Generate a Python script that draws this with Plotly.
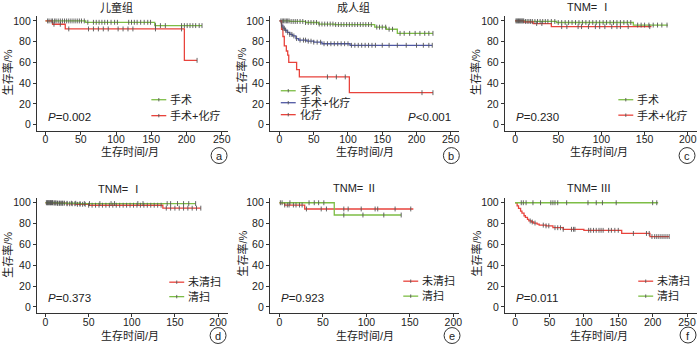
import numpy as np
import plotly.graph_objects as go

# ---------------- data ----------------
# Panel a: 儿童组
a_green_t = [0, 57, 155, 222]
a_green_s = [100, 98.7, 95.5, 95.5]
a_green_c = [3, 5, 8, 10, 13, 15, 18, 21, 24, 27, 30, 33, 36, 39, 42, 45, 48, 51, 55, 60,
             68, 72, 76, 80, 84, 88, 93, 98, 102, 118, 122, 126, 130, 135, 140, 145, 149,
             156, 163, 170, 193, 197, 201, 205, 209, 213, 218, 222]
a_red_t = [0, 10, 28, 197, 215]
a_red_s = [100, 96.8, 92.3, 62, 62]
a_red_c = [12, 21, 33, 61, 68, 75, 82, 89, 103, 110, 117, 124, 156, 193, 215]

# Panel b: 成人组
b_green_t = [0, 15, 38, 57, 80, 139, 156, 172, 224]
b_green_s = [100, 99.5, 98.5, 97, 96.5, 94, 92, 88, 88]
b_green_c = [2, 4, 6, 8, 10, 12, 14, 17, 20, 23, 26, 30, 34, 38, 42, 46, 50, 54, 58, 62, 66,
             70, 74, 78, 82, 86, 90, 94, 98, 102, 106, 110, 114, 118, 122, 126, 130, 134,
             142, 146, 150, 155, 160, 165, 176, 182, 190, 198, 205, 212, 218, 224]
b_blue_t = [0, 3, 5, 8, 11, 15, 19, 24, 28, 40, 50, 62, 103, 223]
b_blue_s = [100, 96, 93, 91, 89, 87, 85.5, 83, 81.5, 80.5, 79.5, 78, 76.5, 76.5]
b_blue_c = [3, 5, 7, 9, 12, 15, 18, 21, 25, 30, 35, 38, 42, 46, 50, 55, 60, 65, 70, 75, 80,
            85, 90, 95, 100, 105, 110, 115, 120, 125, 130, 135, 140, 150, 160, 172, 185,
            200, 210, 218, 223]
b_red_t = [0, 3, 5, 7, 10, 12, 13.5, 25, 29, 102, 224]
b_red_s = [100, 92, 85, 76, 71, 67, 60, 53, 46, 30.8, 30.8]
b_red_c = [70, 83, 96, 208, 224]

# Panel c: TNM= I (手术 / 手术+化疗)
c_green_t = [0, 12, 48, 137, 177]
c_green_s = [100, 99.5, 98.5, 96, 96]
c_green_c = [1, 2, 3, 4, 5, 6, 7, 8, 9, 10, 12, 14, 16, 18, 20, 23, 26, 29, 32, 35, 38, 42,
             46, 50, 54, 58, 62, 66, 70, 74, 78, 82, 86, 90, 94, 98, 102, 106, 110, 114,
             118, 122, 126, 130, 134, 142, 146, 150, 155, 160, 165, 170, 176]
c_red_t = [0, 10, 21, 42, 158]
c_red_s = [100, 99, 97.5, 94.5, 94.5]
c_red_c = [25, 31, 54, 60, 73, 77, 85, 93, 98, 104, 112, 118, 122, 131, 156]

# Panel d: TNM= I (未清扫 / 清扫)
d_red_t = [0, 9, 24, 36, 50, 136, 180]
d_red_s = [100, 99.6, 99, 98.5, 97.6, 94.8, 94.8]
d_red_c = [1, 2, 3, 4, 5, 6, 7, 8, 10, 12, 14, 16, 18, 20, 22, 25, 28, 31, 34, 37, 40, 43,
           46, 50, 54, 58, 62, 66, 70, 74, 78, 82, 86, 90, 94, 98, 102, 106, 110, 114, 118,
           122, 126, 130, 134, 140, 145, 150, 155, 160, 165, 170, 175, 180]
d_green_t = [0, 14, 40, 174]
d_green_s = [100, 99.5, 99.2, 99.2]
d_green_c = [2, 4, 6, 8, 10, 12, 14, 16, 18, 20, 25, 30, 35, 40, 45, 51, 63, 76, 80, 107,
             113, 141, 145, 153, 160, 166, 174]

# Panel e: TNM= II
e_red_t = [0, 6, 29, 154]
e_red_s = [100, 97.8, 94, 94]
e_red_c = [3, 6, 9, 11, 16, 19, 23, 26, 31, 48, 54, 74, 79, 94, 110, 113, 133, 151]
e_green_t = [0, 63, 140]
e_green_s = [100, 88.2, 88.2]
e_green_c = [1, 12, 34, 40, 45, 51, 74, 96, 120, 140]

# Panel f: TNM= III
f_red_t = [0, 3, 5, 8, 10, 13, 15, 18, 20, 24, 27, 32, 35, 45, 55, 70, 100, 155, 196, 224]
f_red_s = [100, 97, 94.5, 92, 90, 87.5, 86, 84, 82.5, 81.5, 80.5, 79.5, 78.5, 77.8, 76,
           74.5, 73.5, 70.5, 67.5, 67.5]
f_red_c = [22, 25, 29, 41, 45, 49, 58, 62, 66, 70, 82, 85, 87, 107, 110, 114, 118, 122, 125,
           128, 136, 140, 145, 150, 172, 191, 195, 199, 203, 206, 209, 212, 215, 218, 221, 224]
f_green_t = [0, 208]
f_green_s = [100, 100]
f_green_c = [9, 12, 16, 26, 37, 52, 55, 58, 62, 75, 106, 118, 127, 147, 200, 206]

titles = ["儿童组", "成人组", "TNM= Ⅰ", "TNM= Ⅰ", "TNM= Ⅱ", "TNM= Ⅲ"]
p_texts = ["<i>P</i>=0.002", "<i>P</i>&lt;0.001", "<i>P</i>=0.230",
           "<i>P</i>=0.373", "<i>P</i>=0.923", "<i>P</i>=0.011"]
panel_letters = ["a", "b", "c", "d", "e", "f"]
y_ticks = [0, 20, 40, 60, 80, 100]
x_ticks_250 = [0, 50, 100, 150, 200, 250]
x_ticks_200 = [0, 50, 100, 150, 200]
x_title = "生存时间/月"
y_title = "生存率/%"

# ---------------- styling ----------------
W, H = 700, 346
GREEN = "#7dbd45"
RED = "#e8433c"
BLUE = "#4f58a3"
DARK = "#333333"
CENS = "#555555"
FONT = "Liberation Sans, Noto Sans CJK SC, sans-serif"


def fx(p):
    return p / W


def fy(p):
    return 1 - p / H


def level_at(t, s, c):
    t = np.asarray(t, float)
    s = np.asarray(s, float)
    idx = np.searchsorted(t, np.asarray(c, float), side="right") - 1
    idx = np.clip(idx, 0, len(s) - 1)
    return s[idx]


panels = [
    dict(curves=[(a_green_t, a_green_s, a_green_c, GREEN, "手术"),
                 (a_red_t, a_red_s, a_red_c, RED, "手术+化疗")]),
    dict(curves=[(b_green_t, b_green_s, b_green_c, GREEN, "手术"),
                 (b_blue_t, b_blue_s, b_blue_c, BLUE, "手术+化疗"),
                 (b_red_t, b_red_s, b_red_c, RED, "化疗")]),
    dict(curves=[(c_green_t, c_green_s, c_green_c, GREEN, "手术"),
                 (c_red_t, c_red_s, c_red_c, RED, "手术+化疗")]),
    dict(curves=[(d_red_t, d_red_s, d_red_c, RED, "未清扫"),
                 (d_green_t, d_green_s, d_green_c, GREEN, "清扫")]),
    dict(curves=[(e_red_t, e_red_s, e_red_c, RED, "未清扫"),
                 (e_green_t, e_green_s, e_green_c, GREEN, "清扫")]),
    dict(curves=[(f_red_t, f_red_s, f_red_c, RED, "未清扫"),
                 (f_green_t, f_green_s, f_green_c, GREEN, "清扫")]),
]

# layout geometry (pixels)
col_dom = [(37, 229), (271, 461), (507, 700)]
row_dom = [(14.8, 130.2), (197.1, 313.0)]
x_zero = [45.7, 280.7, 517.3, 45.7, 280.7, 517.3]
x_scale = [0.708, 0.688, 0.867, 0.8665, 0.873, 0.6908]
x_ticks = [x_ticks_250, x_ticks_250, x_ticks_200, x_ticks_200, x_ticks_200, x_ticks_250]
title_pos = [(117, 7), (355, 6.5), (592, 6), (121, 188.5), (357, 187.5), (592, 188)]
xtitle_pos = [(130.5, 150.5), (366.7, 150.5), (601.7, 150.5), (130.8, 335), (366.7, 335), (601.7, 335)]
ytitle_pos = [(7.5, 71), (242.7, 70), (478.3, 71), (7.5, 254), (243.3, 253), (478.3, 253)]
p_pos = [(45.7, 116, "left"), (455, 116, "right"), (516.7, 116, "left"),
         (46, 297.5, "left"), (280.7, 297.5, "left"), (516.7, 297.5, "left")]
circ_pos = [(220, 155), (453.3, 155), (690, 155), (219, 335.5), (454, 335.5), (691, 335)]
leg_x = [152, 282, 621, 170, 405, 641]
leg_rows = [[99, 115], [90, 102, 114], [99, 114.5], [282, 296.5], [281, 296], [281, 296]]

fig = go.Figure()
shapes = []
annotations = []
layout_axes = {}

for i, pnl in enumerate(panels):
    r, c = divmod(i, 3)
    n = i + 1
    xa = "x" if n == 1 else f"x{n}"
    ya = "y" if n == 1 else f"y{n}"
    xl = "xaxis" if n == 1 else f"xaxis{n}"
    yl = "yaxis" if n == 1 else f"yaxis{n}"
    c0, c1 = col_dom[c]
    r0, r1 = row_dom[r]
    xr = [(c0 - x_zero[i]) / x_scale[i], (c1 - x_zero[i]) / x_scale[i]]
    common = dict(showline=True, linecolor=DARK, linewidth=1, ticks="outside", ticklen=3,
                  tickwidth=1, tickcolor=DARK, showgrid=False, zeroline=False,
                  tickfont=dict(size=10.5, color="#222", family=FONT), fixedrange=True)
    layout_axes[xl] = dict(domain=[fx(c0), fx(c1)], range=xr, anchor=ya,
                           tickvals=x_ticks[i], ticklabelstandoff=-4, **common)
    layout_axes[yl] = dict(domain=[fy(r1), fy(r0)], range=[-6, 105], anchor=xa,
                           tickvals=y_ticks, **common)

    for (t, s, cens, col, name) in pnl["curves"]:
        fig.add_trace(go.Scatter(x=t, y=s, mode="lines", line=dict(color=col, width=1.3, shape="hv"),
                                 xaxis=xa, yaxis=ya, showlegend=False, hoverinfo="skip"))
    for (t, s, cens, col, name) in pnl["curves"]:
        fig.add_trace(go.Scatter(x=cens, y=level_at(t, s, cens), mode="markers",
                                 marker=dict(symbol="line-ns", size=3.5,
                                             line=dict(color=CENS, width=0.9)),
                                 xaxis=xa, yaxis=ya, showlegend=False, hoverinfo="skip"))

    # legend (manual)
    for (t, s, cens, col, name), ly in zip(pnl["curves"], leg_rows[i]):
        lx = leg_x[i]
        shapes.append(dict(type="line", xref="paper", yref="paper", x0=fx(lx), x1=fx(lx + 15),
                           y0=fy(ly), y1=fy(ly), line=dict(color=col, width=1.3)))
        shapes.append(dict(type="line", xref="paper", yref="paper", x0=fx(lx + 7.5), x1=fx(lx + 7.5),
                           y0=fy(ly - 1.7), y1=fy(ly + 1.7), line=dict(color=CENS, width=0.9)))
        annotations.append(dict(text=name, x=fx(lx + 17), y=fy(ly), xref="paper", yref="paper",
                                xanchor="left", yanchor="middle", showarrow=False,
                                font=dict(size=11, color="#222", family=FONT)))

    tx, ty = title_pos[i]
    annotations.append(dict(text=titles[i], x=fx(tx), y=fy(ty), xref="paper", yref="paper",
                            xanchor="center", yanchor="middle", showarrow=False,
                            font=dict(size=11, color="#222", family=FONT)))
    tx, ty = xtitle_pos[i]
    annotations.append(dict(text=x_title, x=fx(tx), y=fy(ty), xref="paper", yref="paper",
                            xanchor="center", yanchor="middle", showarrow=False,
                            font=dict(size=11, color="#222", family=FONT)))
    tx, ty = ytitle_pos[i]
    annotations.append(dict(text=y_title, x=fx(tx), y=fy(ty), xref="paper", yref="paper",
                            xanchor="center", yanchor="middle", showarrow=False, textangle=-90,
                            font=dict(size=11, color="#222", family=FONT)))
    tx, ty, anc = p_pos[i]
    annotations.append(dict(text=p_texts[i], x=fx(tx), y=fy(ty), xref="paper", yref="paper",
                            xanchor=anc, yanchor="middle", showarrow=False,
                            font=dict(size=11.5, color="#222", family=FONT)))
    cx, cy = circ_pos[i]
    shapes.append(dict(type="circle", xref="paper", yref="paper", x0=fx(cx - 8), x1=fx(cx + 8),
                       y0=fy(cy + 8), y1=fy(cy - 8), line=dict(color=DARK, width=1)))
    annotations.append(dict(text=panel_letters[i], x=fx(cx), y=fy(cy + 0.5), xref="paper", yref="paper",
                            xanchor="center", yanchor="middle", showarrow=False,
                            font=dict(size=11, color="#222", family=FONT)))

fig.update_layout(width=W, height=H, margin=dict(l=0, r=0, t=0, b=0),
                  paper_bgcolor="white", plot_bgcolor="white", showlegend=False,
                  shapes=shapes, annotations=annotations, font=dict(family=FONT),
                  **layout_axes)
fig.write_html("out.html", config={"displayModeBar": False})
